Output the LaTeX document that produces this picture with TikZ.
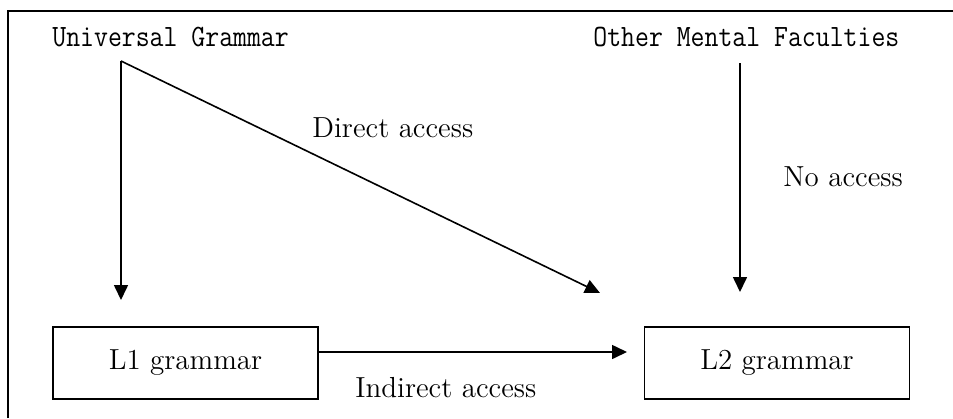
\documentclass[tikz,border=0pt]{standalone}
\usepackage{graphicx}
\usetikzlibrary{arrows.meta}
\newcommand{\tallmono}[1]{\scalebox{1}[1.15]{#1}}
\begin{document}
\begin{tikzpicture}[x=0.5pt,y=-0.5pt,
  frame/.style={line width=1pt},
  gbox/.style={draw,line width=0.8pt,minimum width=132.5pt,minimum height=36pt,inner sep=0pt,
    font=\fontsize{14.5}{17}\selectfont},
  mono/.style={inner sep=0pt,font=\fontsize{13.5}{15}\ttfamily},
  lbl/.style={inner sep=0pt,font=\fontsize{14.5}{17}\selectfont},
  acc/.style={line width=0.8pt,-{Triangle[length=7.5pt,width=7pt]}}]
\useasboundingbox (0,0) rectangle (953,418);
\fill[white] (0,0) rectangle (953,418);

% enclosing frame (only its left and top sides fall inside the page)
\draw[frame] (8,418) -- (8,11) -- (953,11);

% sources
\node[mono,anchor=base west] (ug)  at (52,46)  {\tallmono{Universal Grammar}};
\node[mono,anchor=base west] (omf) at (593,46) {\tallmono{Other Mental Faculties}};

% grammars
\node[gbox] (l1) at (185.5,363) {L1 grammar};
\node[gbox] (l2) at (777,363)   {L2 grammar};

% connector end points
\coordinate (apex)    at (121,61);
\coordinate (l1in)    at (121,300);
\coordinate (direct)  at (600,293);
\coordinate (omfout)  at (740,63);
\coordinate (l2in)    at (740,292);
\coordinate (indir)   at (627,352);

\draw[acc] (apex) -- (l1in);
\draw[acc] (apex) -- (direct);
\draw[acc] (omfout) -- (l2in);
\draw[acc] (l1.east |- indir) -- (indir);

% labels
\node[lbl,anchor=base west] (dlbl) at (312,137) {Direct access};
\node[lbl,anchor=base west] (nlbl) at (783,186) {No access};
\node[lbl,anchor=base west] (ilbl) at (355,397) {Indirect access};
\end{tikzpicture}
\end{document}
